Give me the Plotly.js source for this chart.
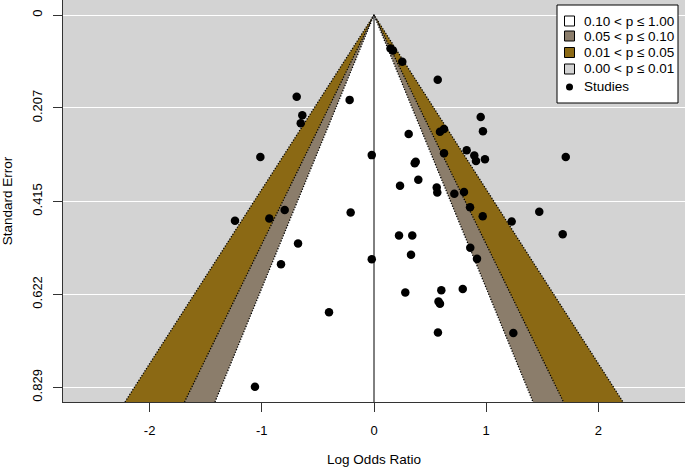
<!DOCTYPE html>
<html><head><meta charset="utf-8">
<script src="https://cdn.plot.ly/plotly-3.0.1.min.js"></script>
<style>html,body{margin:0;padding:0;background:#fff}#chart{width:685px;height:468px}</style>
</head><body><div id="chart"></div>
<script>
// Study estimates (log odds ratio) and their standard errors
const logOddsRatio = [0.147, 0.169, 0.252, 0.568, -0.689, -0.217, -0.639, -0.653, 0.951, 0.971,
  0.588, 0.624, 0.309, -1.013, -0.020, 0.826, 0.894, 0.909, 0.989, 0.624,
  1.709, 0.372, 0.363, 0.395, 0.232, 0.559, 0.564, 0.716, 0.802, 0.856,
  0.969, 1.227, 1.473, 1.682, 0.223, 0.341, 0.858, -1.239, -0.933, -0.796,
  -0.208, -0.677, -0.829, -0.020, 0.330, 0.918, 0.279, 0.600, 0.791, 0.575,
  0.588, -0.401, 0.570, 1.242, -1.061];
const standardError = [0.0746, 0.0790, 0.104, 0.144, 0.182, 0.189, 0.223, 0.241, 0.227, 0.259,
  0.260, 0.254, 0.265, 0.316, 0.312, 0.301, 0.313, 0.325, 0.321, 0.308,
  0.316, 0.327, 0.330, 0.367, 0.380, 0.384, 0.395, 0.398, 0.394, 0.428,
  0.448, 0.460, 0.438, 0.488, 0.491, 0.491, 0.518, 0.458, 0.453, 0.434,
  0.440, 0.509, 0.555, 0.544, 0.534, 0.543, 0.618, 0.613, 0.610, 0.638,
  0.643, 0.662, 0.707, 0.708, 0.828];

const yTickVals = [0, 0.207, 0.415, 0.622, 0.829];
const yTickText = ['0', '0.207', '0.415', '0.622', '0.829'];
const xTickVals = [-2, -1, 0, 1, 2];
const xTickText = ['-2', '-1', '0', '1', '2'];

const legendLabels = ['0.10 < p \u2264 1.00', '0.05 < p \u2264 0.10', '0.01 < p \u2264 0.05', '0.00 < p \u2264 0.01', 'Studies'];
const legendColors = ['#FFFFFF', '#8B7D6B', '#8B6914', '#D3D3D3'];

// critical z values for p = 0.01, 0.05, 0.10 (outer to inner)
const contourZ = [2.576, 1.960, 1.645];
const contourColors = ['#8B6914', '#8B7D6B', '#FFFFFF'];
const seMax = 0.8617;
const seMin = -0.0334;
const xLim = 2.772;

const FONT = 'Liberation Sans, Arial, Helvetica, sans-serif';
const W = 685, H = 468;
const M = {l: 63, r: 0, t: 0, b: 66};
const PW = W - M.l - M.r, PH = H - M.t - M.b;
const px = (x) => (x - M.l) / PW;          // pixel -> paper x
const py = (y) => 1 - (y - M.t) / PH;      // pixel -> paper y

const traces = [];
contourZ.forEach((z, i) => {
  traces.push({
    type: 'scatter', mode: 'lines',
    x: [-z * seMax, 0, z * seMax],
    y: [seMax, 0, seMax],
    fill: 'toself', fillcolor: contourColors[i],
    line: {color: '#000', width: 1.3, dash: '1.2px,1.6px'},
    hoverinfo: 'skip', showlegend: false
  });
});

// vertical reference line at 0
traces.push({
  type: 'scatter', mode: 'lines', x: [0, 0], y: [0, seMax],
  line: {color: '#000', width: 1}, hoverinfo: 'skip', showlegend: false
});

traces.push({
  type: 'scatter', mode: 'markers', x: logOddsRatio, y: standardError, name: 'Studies',
  marker: {symbol: 'circle', size: 8.5, color: '#000'}, showlegend: false
});

// manual legend (R style)
const shapes = [];
const annotations = [];
shapes.push({type: 'rect', xref: 'paper', yref: 'paper', x0: px(557), x1: px(678), y0: py(103), y1: py(5),
  fillcolor: '#FFFFFF', line: {color: '#000', width: 1}});
const rowY = [21, 36, 52.5, 69, 87];
legendLabels.forEach((lab, i) => {
  if (i < legendColors.length) {
    shapes.push({type: 'rect', xref: 'paper', yref: 'paper',
      x0: px(564.5), x1: px(574.5), y0: py(rowY[i] + 5), y1: py(rowY[i] - 5),
      fillcolor: legendColors[i], line: {color: '#000', width: 1}});
  } else {
    shapes.push({type: 'circle', xref: 'paper', yref: 'paper',
      x0: px(566), x1: px(573), y0: py(rowY[i] + 3.5), y1: py(rowY[i] - 3.5),
      fillcolor: '#000', line: {color: '#000', width: 0}});
  }
  annotations.push({xref: 'paper', yref: 'paper', x: px(582), y: py(rowY[i]),
    xanchor: 'left', yanchor: 'middle', text: lab, showarrow: false,
    font: {size: 13.5, family: FONT, color: '#000'}});
});

const layout = {
  width: W, height: H, margin: M,
  paper_bgcolor: '#FFFFFF', plot_bgcolor: '#D3D3D3',
  font: {family: FONT, size: 13, color: '#000'},
  showlegend: false,
  xaxis: {
    range: [-xLim, xLim], tickvals: xTickVals, ticktext: xTickText,
    ticks: 'outside', ticklen: 9, tickcolor: '#333', tickwidth: 1,
    showline: true, linecolor: '#333', linewidth: 1,
    showgrid: false, zeroline: false, ticklabelstandoff: 7,
    tickfont: {size: 13, family: FONT},
    title: {text: 'Log Odds Ratio', font: {size: 13.5, family: FONT}, standoff: 17}
  },
  yaxis: {
    range: [seMax, seMin], tickvals: yTickVals, ticktext: yTickText, tickangle: -90,
    ticks: 'outside', ticklen: 9, tickcolor: '#333', tickwidth: 1,
    showline: true, linecolor: '#333', linewidth: 1,
    showgrid: true, gridcolor: '#FFFFFF', gridwidth: 1, zeroline: false,
    ticklabelstandoff: 6,
    tickfont: {size: 13, family: FONT},
    title: {text: 'Standard Error', font: {size: 13.5, family: FONT}, standoff: 17}
  },
  shapes: shapes,
  annotations: annotations
};

Plotly.newPlot('chart', traces, layout, {displayModeBar: false, staticPlot: true});
</script></body></html>
